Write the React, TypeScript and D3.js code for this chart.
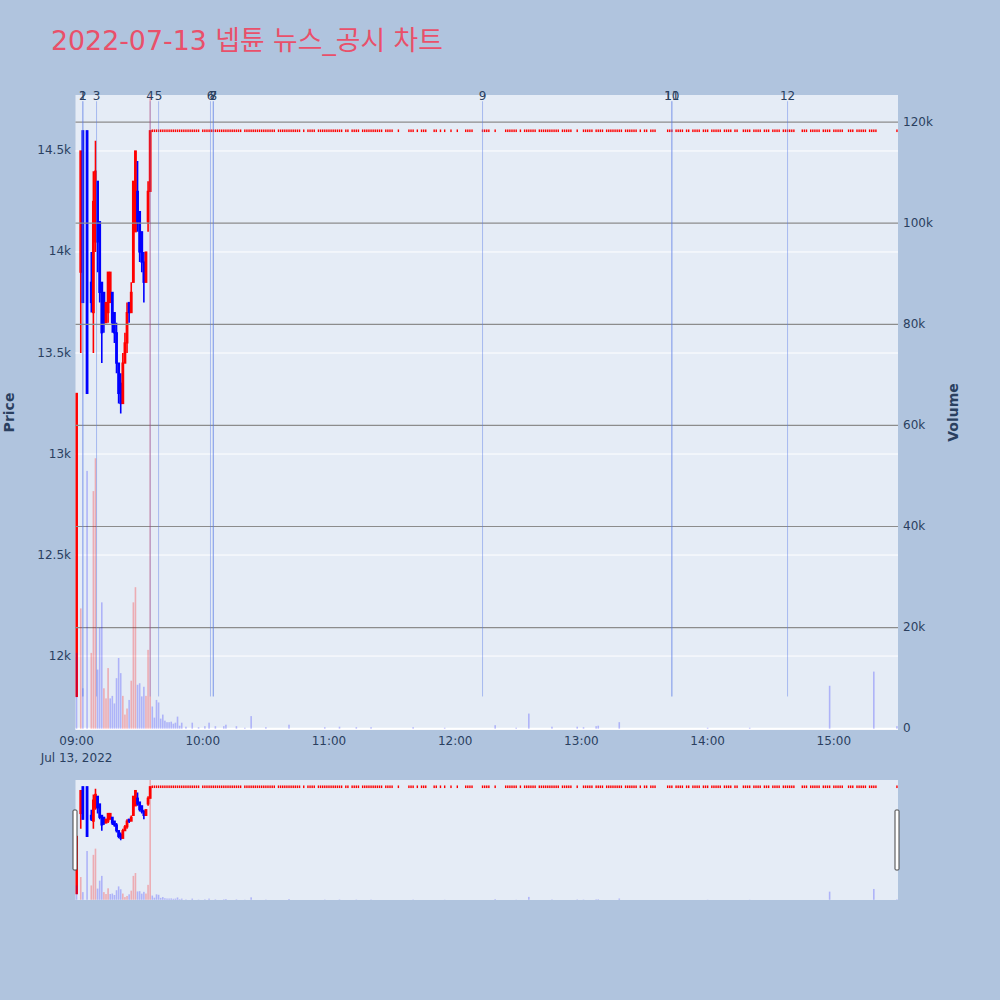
import React from "react";
import * as d3 from "d3";

const TITLE = "2022-07-13 넵튠 뉴스_공시 차트";
const DATE_LABEL = "Jul 13, 2022";

// Early session one-minute candles (before the price locked at the upper limit)
const candleTimes = ["09:00","09:02","09:03","09:05","09:07","09:08","09:09","09:10","09:11","09:12","09:13","09:14","09:15","09:16","09:17","09:18","09:19","09:20","09:21","09:22","09:23","09:24","09:25","09:26","09:27","09:28","09:29","09:30","09:31","09:32","09:33","09:34","09:35"];
const candleOpen = [11800,13900,14600,14600,13850,13700,14050,14350,14150,13850,13800,13650,13700,13750,13800,13700,13600,13450,13350,13250,13450,13550,13750,13700,13850,14100,14300,14200,14100,13950,13850,14150,14300];
const candleHigh = [13300,14500,14600,14600,14000,14400,14550,14350,14150,13850,13800,13750,13900,13900,13800,13700,13650,13450,13400,13500,13600,13750,13750,13850,14350,14500,14450,14200,14100,14000,14000,14350,14600];
const candleLow = [11800,13500,13750,13300,13700,13500,14000,13900,13750,13450,13600,13650,13650,13750,13600,13550,13400,13250,13200,13250,13450,13500,13650,13700,13850,14100,14100,13950,13900,13750,13850,14100,14300];
const candleClose = [13300,14500,13750,13300,13750,14250,14400,14050,13800,13600,13650,13750,13900,13900,13650,13600,13450,13300,13250,13450,13550,13700,13700,13800,14350,14500,14150,14000,13950,13850,14000,14300,14600];
const candleVolume = [15000,23800,8000,51000,15000,47000,53500,11700,20000,25000,8000,6000,12000,6000,6500,5000,10000,14000,11000,6500,2800,4000,5700,9500,25000,28000,8700,9000,6400,8300,6500,15600,400000];

// After 09:35 the price sat at the upper limit; minutes with trades
const limitPrice = 14600;
const limitUpRuns: [string, string][] = [
  ["09:36","09:58"],["10:00","10:18"],["10:20","10:34"],["10:36","10:46"],["10:48","10:48"],["10:50","10:53"],
  ["10:55","11:06"],["11:08","11:09"],["11:11","11:14"],["11:16","11:25"],["11:27","11:30"],["11:33","11:33"],
  ["11:38","11:40"],["11:42","11:42"],["11:44","11:46"],["11:50","11:51"],["11:53","11:53"],["11:55","11:55"],
  ["11:58","11:58"],["12:01","12:01"],["12:05","12:08"],["12:13","12:16"],["12:19","12:19"],["12:24","12:29"],
  ["12:31","12:31"],["12:33","12:38"],["12:40","12:49"],["12:51","12:55"],["12:58","12:58"],["13:01","13:05"],
  ["13:07","13:10"],["13:12","13:19"],["13:21","13:26"],["13:28","13:28"],["13:30","13:31"],["13:33","13:35"],
  ["13:41","13:43"],["13:45","13:48"],["13:50","13:51"],["13:53","13:56"],["13:58","14:00"],["14:02","14:06"],
  ["14:08","14:11"],["14:13","14:14"],["14:17","14:20"],["14:22","14:25"],["14:27","14:29"],["14:31","14:34"],
  ["14:36","14:41"],["14:45","14:47"],["14:49","14:53"],["14:55","14:58"],["15:00","15:04"],["15:07","15:09"],
  ["15:11","15:15"],["15:17","15:20"],["15:30","15:30"],
];
const limitVolumeTimes = ["09:36","09:37","09:38","09:39","09:40","09:41","09:42","09:43","09:44","09:45","09:46","09:47","09:48","09:49","09:50","09:52","09:55","09:58","10:01","10:03","10:06","10:10","10:11","10:16","10:20","10:23","10:30","10:41","10:58","11:05","11:13","11:20","11:40","11:55","12:19","12:29","12:35","12:46","12:58","13:01","13:07","13:08","13:18","14:00","14:20","14:58","15:19","15:30"];
const limitVolumes = [4400,2200,5700,5200,2000,2800,1600,1300,1300,1400,1000,1200,2400,600,1200,400,1200,300,500,1200,500,500,800,500,200,2500,300,800,300,400,300,300,300,200,700,200,3000,400,400,300,500,600,1300,200,200,8500,11300,500];

// News / disclosure markers
const newsLabels = ["1","2","3","4","5","6","7","8","9","10","11","12"];
const newsTimes = ["09:03","09:03","09:09:30","09:35","09:39","10:03:40","10:05","10:05","12:13","13:43","13:43","14:38"];

const priceTicks = [12000,12500,13000,13500,14000,14500];
const priceTickLabels = ["12k","12.5k","13k","13.5k","14k","14.5k"];
const volumeTicks = [0,20000,40000,60000,80000,100000,120000];
const volumeTickLabels = ["0","20k","40k","60k","80k","100k","120k"];
const timeTicks = ["09:00","10:00","11:00","12:00","13:00","14:00","15:00"];

const FONT = "'DejaVu Sans', 'Noto Sans CJK KR', sans-serif";
const TXT = "#2a3f5f";
const UP = "#ff0000";
const DOWN = "#0000ff";

const toDate = (t: string) => {
  const p = t.split(":").map(Number);
  return new Date(2022, 6, 13, p[0], p[1], p[2] || 0);
};

type Candle = { t: Date; o: number; h: number; l: number; c: number; v: number; flat: boolean };

function buildCandles(): Candle[] {
  const out: Candle[] = candleTimes.map((t, i) => ({
    t: toDate(t), o: candleOpen[i], h: candleHigh[i], l: candleLow[i], c: candleClose[i], v: candleVolume[i], flat: false,
  }));
  const volMap = new Map<number, number>();
  limitVolumeTimes.forEach((t, i) => volMap.set(toDate(t).getTime(), limitVolumes[i]));
  limitUpRuns.forEach(([a, b]) => {
    const minutes = d3.timeMinute.range(toDate(a), d3.timeMinute.offset(toDate(b), 1));
    minutes.forEach((m) => {
      out.push({ t: m, o: limitPrice, h: limitPrice, l: limitPrice, c: limitPrice, v: volMap.get(m.getTime()) || 0, flat: true });
    });
  });
  return out;
}

export default function App() {
  const candles = buildCandles();
  const L = 75.5, R = 898, T = 95, B = 730;
  const ST = 780, SB = 900;
  const x = d3.scaleTime().domain([toDate("08:59:30"), toDate("15:30:30")]).range([L, R]);
  const yP = d3.scaleLinear().domain([11634, 14777]).range([B, T]);
  const yV = d3.scaleLinear().domain([-250, 125350]).range([B, T]);
  const sP = d3.scaleLinear().domain(yP.domain()).range([SB, ST]);
  const sV = d3.scaleLinear().domain(yV.domain()).range([SB, ST]);

  const volColor = candles.map((c, i) => (i > 0 && c.c > candles[i - 1].c ? "rgba(255,0,0,0.27)" : "rgba(0,0,255,0.24)"));
  const maxHigh = d3.max(candles, (c) => c.h) as number;
  const minLow = d3.min(candles, (c) => c.l) as number;

  const renderCandles = (y: d3.ScaleLinear<number, number>, k: string) =>
    candles.map((c, i) => {
      const cx = x(c.t);
      const col = c.flat ? UP : c.c >= c.o ? UP : DOWN;
      if (c.flat) {
        return <rect key={k + i} x={cx - 0.7} width={1.4} y={y(c.c) - 1.3} height={2.6} fill={col} />;
      }
      const top = y(Math.max(c.o, c.c));
      const bot = y(Math.min(c.o, c.c));
      return (
        <g key={k + i}>
          <line x1={cx} x2={cx} y1={y(c.h)} y2={y(c.l)} stroke={col} strokeWidth={1.6} />
          <rect x={cx - 1.4} width={2.8} y={top - 0.6} height={Math.max(bot - top, 0) + 1.2} fill={col} />
        </g>
      );
    });

  const renderVolume = (y: d3.ScaleLinear<number, number>, k: string) =>
    candles.map((c, i) =>
      c.v > 0 ? (
        <rect key={k + i} x={x(c.t) - 0.8} width={1.6} y={y(c.v)} height={y(0) - y(c.v)} fill={volColor[i]} />
      ) : null
    );

  return (
    <svg width={1000} height={1000} style={{ position: "absolute", left: 0, top: 0, fontFamily: FONT }}>
      <defs>
        <clipPath id="mainClip"><rect x={L} y={T} width={R - L} height={B - T} /></clipPath>
        <clipPath id="sliderClip"><rect x={L} y={ST} width={R - L} height={SB - ST} /></clipPath>
      </defs>
      <rect x={0} y={0} width={1000} height={1000} fill="#b0c4de" />
      <text x={51} y={50} fontSize={26.8} fill="#e9506a" fontFamily={FONT}>{TITLE}</text>

      {/* main plot */}
      <rect x={L} y={T} width={R - L} height={B - T} fill="#e5ecf6" />
      {priceTicks.map((p) => (
        <line key={"pg" + p} x1={L} x2={R} y1={yP(p)} y2={yP(p)} stroke="#ffffff" strokeWidth={1} />
      ))}
      <g clipPath="url(#mainClip)">{renderCandles(yP, "c")}</g>
      {volumeTicks.slice(1).map((v) => (
        <line key={"vg" + v} x1={L} x2={R} y1={yV(v)} y2={yV(v)} stroke="#8c8c8c" strokeWidth={1.2} />
      ))}
      <line x1={L} x2={R} y1={yV(0)} y2={yV(0)} stroke="#ffffff" strokeWidth={2} />
      <g clipPath="url(#mainClip)">{renderVolume(yV, "v")}</g>
      {newsTimes.map((t, i) => (
        <line key={"n" + i} x1={x(toDate(t))} x2={x(toDate(t))} y1={yP(minLow)} y2={yP(maxHigh * 1.01)}
          stroke="rgba(90,125,230,0.45)" strokeWidth={1} />
      ))}
      {newsTimes.map((t, i) => (
        <text key={"nl" + i} x={x(toDate(t))} y={yP(maxHigh * 1.0115)} fontSize={12} fill={TXT}
          textAnchor="middle" dominantBaseline="middle">{newsLabels[i]}</text>
      ))}

      {/* axes labels */}
      {priceTicks.map((p, i) => (
        <text key={"pt" + p} x={71} y={yP(p)} fontSize={12} fill={TXT} textAnchor="end" dominantBaseline="middle">{priceTickLabels[i]}</text>
      ))}
      {volumeTicks.map((v, i) => (
        <text key={"vt" + v} x={903} y={yV(v)} fontSize={12} fill={TXT} textAnchor="start" dominantBaseline="middle">{volumeTickLabels[i]}</text>
      ))}
      {timeTicks.map((t) => (
        <text key={"tt" + t} x={x(toDate(t))} y={745} fontSize={12} fill={TXT} textAnchor="middle">{t}</text>
      ))}
      <text x={x(toDate(timeTicks[0]))} y={762} fontSize={12} fill={TXT} textAnchor="middle">{DATE_LABEL}</text>
      <text transform={`translate(14,${(T + B) / 2}) rotate(-90)`} fontSize={14} fontWeight="bold" fill={TXT} textAnchor="middle">Price</text>
      <text transform={`translate(958,${(T + B) / 2}) rotate(-90)`} fontSize={14} fontWeight="bold" fill={TXT} textAnchor="middle">Volume</text>

      {/* range slider */}
      <rect x={L} y={ST} width={R - L} height={SB - ST} fill="#e5ecf6" />
      <g clipPath="url(#sliderClip)">
        {renderCandles(sP, "sc")}
        {renderVolume(sV, "sv")}
      </g>
      <rect x={73} y={810} width={4} height={60} fill="#ffffff" stroke="#444" strokeWidth={1} rx={1} />
      <rect x={895} y={810} width={4} height={60} fill="#ffffff" stroke="#444" strokeWidth={1} rx={1} />
    </svg>
  );
}
